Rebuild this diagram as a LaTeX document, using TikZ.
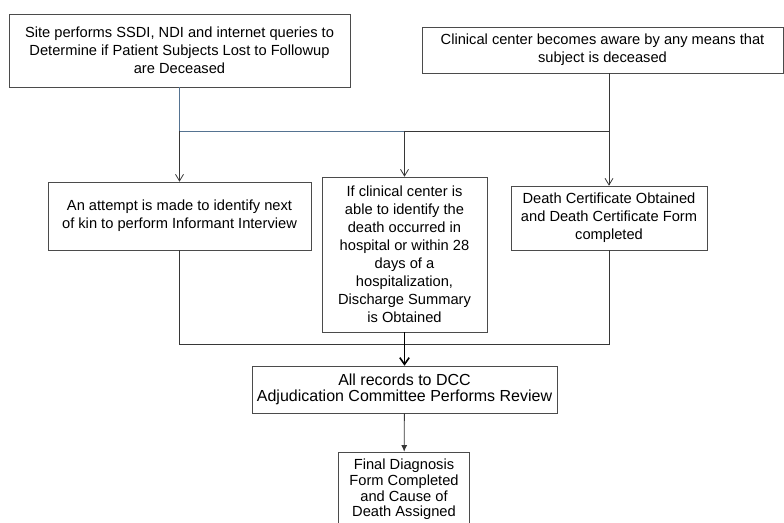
\documentclass[tikz,border=0pt]{standalone}
\usepackage{fontspec}
\setmainfont{Liberation Sans}
\usetikzlibrary{arrows.meta}
\definecolor{linegray}{RGB}{55,55,55}
\definecolor{boxgray}{RGB}{75,75,75}
\definecolor{steel}{RGB}{85,115,145}

\begin{document}
\begin{tikzpicture}[x=0.75pt, y=-0.75pt,
	box/.style={draw=boxgray, fill=white, align=center, inner sep=1pt, font=\fontsize{11}{13.5}\selectfont},
	conn/.style={draw=linegray, line width=0.6pt},
	arr/.style={conn, -{Straight Barb[length=5pt, width=6pt]}},
	fat/.style={draw=black, line width=1.2pt, -{Straight Barb[length=5pt, width=7pt, line width=1.2pt]}},
	small/.style={conn, -{Latex[length=5pt, width=4.5pt]}}]
			\useasboundingbox (0,0) rectangle (784,523);
			\clip (0,0) rectangle (784,523);

			\node[box, minimum width=255.75pt, minimum height=54.75pt] (site) at (179.5,50.5)
				{Site performs SSDI, NDI and internet queries to\\Determine if Patient Subjects Lost to Followup\\are Deceased};
			\node[box, minimum width=270.75pt, minimum height=34.5pt] (aware) at (602.5,50)
				{Clinical center becomes aware by any means that\\subject is deceased};

			\node[box, minimum width=197.25pt, minimum height=51pt] (kin) at (179.5,216)
				{An attempt is made to identify next\\of kin to perform Informant Interview};
			\node[box, minimum width=123.75pt, minimum height=116.25pt] (hosp) at (404.5,254.5)
				{If clinical center is\\able to identify the\\death occurred in\\hospital or within 28\\days of a\\hospitalization,\\Discharge Summary\\is Obtained};
			\node[box, minimum width=147pt, minimum height=48pt] (cert) at (609,218)
				{Death Certificate Obtained\\and Death Certificate Form\\completed};

			\node[box, minimum width=228.75pt, minimum height=35.25pt, font=\fontsize{12}{12.5}\selectfont] (dcc) at (404.5,389.5)
				{All records to DCC\\Adjudication Committee Performs Review};
			\node[box, minimum width=98.25pt, minimum height=56.25pt, font=\fontsize{11}{11.8}\selectfont] (final) at (404,489.5)
				{Final Diagnosis\\Form Completed\\and Cause of\\Death Assigned};

			\coordinate (jt) at (404,131);
			\coordinate (jb) at (404,344);

			\draw[conn] (aware.south -| cert) -- (cert |- jt) -- (jt);
			\draw[conn, draw=steel] (site) -- (site |- jt) -- (jt);
			\foreach \n in {kin, hosp, cert} {
				\draw[arr] (\n |- jt) -- (\n);
			}

			\draw[conn] (kin) -- (kin |- jb) -- (cert |- jb) -- (cert);
			\draw[fat] (hosp) -- (dcc);
			\draw[small] (dcc) -- (final);
		\end{tikzpicture}
\end{document}
